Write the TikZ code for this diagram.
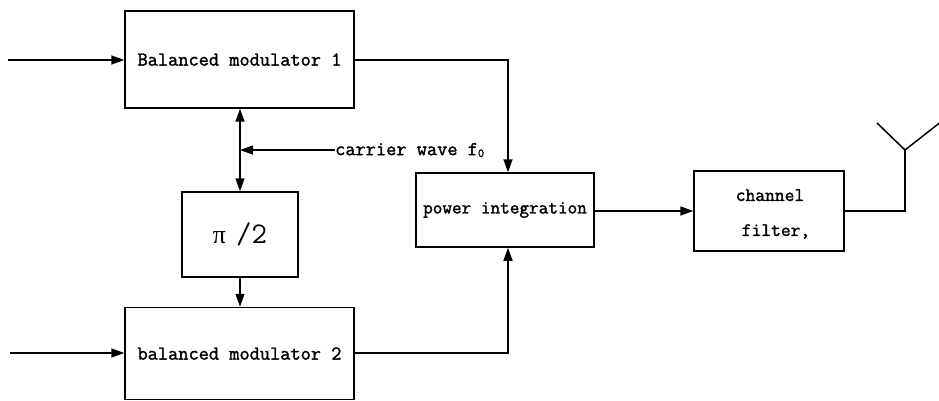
\documentclass[tikz,border=0pt]{standalone}
\usepackage{fontspec}
\newfontfamily\greekserif{Liberation Serif}
\newfontfamily\blkfont[AutoFakeBold=1.6]{Latin Modern Mono}
\usetikzlibrary{arrows.meta}
\begin{document}
\begin{tikzpicture}[x=1pt,y=-1pt,
  blk/.style={draw,line width=1.5pt,inner sep=0pt,align=center,
    font=\blkfont\bfseries\fontsize{19.8}{27}\selectfont},
  lbl/.style={inner sep=0pt,align=center,font=\blkfont\bfseries\fontsize{19.8}{22}\selectfont},
  conn/.style={line width=1.5pt},
  arr/.style={conn,-{Triangle[length=13pt,width=9pt]}},
  darr/.style={conn,{Triangle[length=13pt,width=9pt]}-{Triangle[length=13pt,width=9pt]}}]
\useasboundingbox (0,0) rectangle (939,401);
\node[blk,minimum width=229pt,minimum height=97pt] (bm1) at (239.5,59.5) {Balanced modulator 1};
\node[blk,minimum width=229pt,minimum height=92pt] (bm2) at (239.5,353.5) {balanced modulator 2};
\node[blk,minimum width=116pt,minimum height=85pt] (pi2) at (240,234.5)
  {{\greekserif\mdseries\fontsize{26}{30}\selectfont π} {\mdseries\fontsize{30}{30}\selectfont/2}};
\node[blk,minimum width=178pt,minimum height=74pt,font=\blkfont\bfseries\fontsize{18.7}{27}\selectfont] (pow) at (505,210) {power integration};
\node[blk,minimum width=150pt,minimum height=80pt] (chf) at (769,211) {};
\node[lbl,font=\blkfont\bfseries\fontsize{19}{35}\selectfont] (chft) at (770,214) {channel\\\hspace*{12pt}filter,};
\node[lbl,anchor=west] (car) at (335,150)
  {carrier wave f\raisebox{-0.2ex}{\fontsize{12}{12}\selectfont 0}};
\coordinate (in1) at (8,60);
\coordinate (in2) at (10,353);
\coordinate (j1) at (240,150);
\coordinate (c1) at (508,60);
\coordinate (c2) at (508,353);
\coordinate (ant) at (905,211);
\coordinate (antc) at (905,150);
\coordinate (antl) at (877,123);
\coordinate (antr) at (942,121);
\draw[arr] (in1) -- (bm1.west |- in1);
\draw[arr] (in2) -- (bm2.west |- in2);
\draw[darr] (bm1.south -| j1) -- (pi2.north -| j1);
\draw[arr] (car.west) -- (j1);
\draw[arr] (pi2.south) -- (bm2.north -| pi2.south);
\draw[arr] (bm1.east |- c1) -- (c1) -- (pow.north -| c1);
\draw[arr] (bm2.east |- c2) -- (c2) -- (pow.south -| c2);
\draw[arr] (pow.east |- chf.west) -- (chf.west);
\draw[conn] (chf.east) -- (ant) -- (antc);
\draw[conn] (antl) -- (antc) -- (antr);
\end{tikzpicture}
\end{document}
